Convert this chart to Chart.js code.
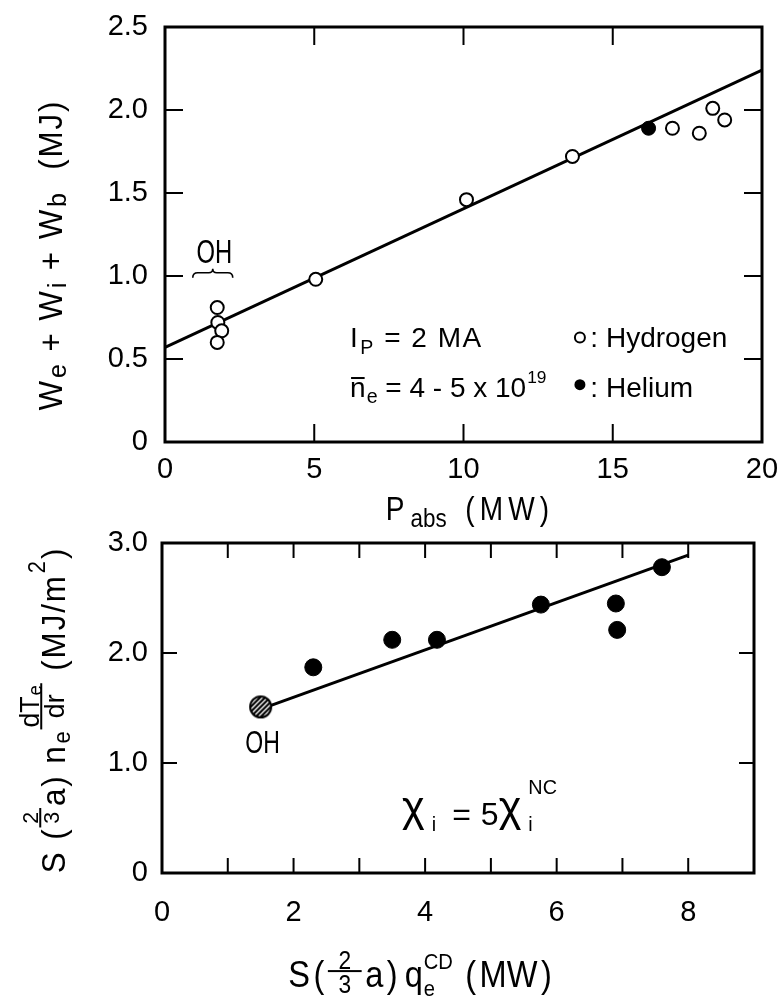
<!DOCTYPE html>
<html>
<head>
<meta charset="utf-8">
<script src="https://cdn.jsdelivr.net/npm/chart.js@4.4.1/dist/chart.umd.min.js"></script>
<style>
  body { margin: 0; background: #fff; width: 778px; height: 1004px; position: relative; overflow: hidden; }
  canvas { position: absolute; left: 0; }
</style>
</head>
<body>
<canvas id="topChart" width="778" height="540" style="top:0"></canvas>
<canvas id="bottomChart" width="778" height="484" style="top:520px"></canvas>
<script>
// --- datos del panel superior (energía almacenada vs potencia absorbida) ---
const topXTicks = [0, 5, 10, 15, 20];
const topYTicks = [0, 0.5, 1.0, 1.5, 2.0, 2.5];
const hydrogenX = [1.75, 1.77, 1.9, 1.75, 5.05, 10.1, 13.65, 17.0, 17.9, 18.35, 18.75];
const hydrogenY = [0.81, 0.72, 0.67, 0.60, 0.98, 1.46, 1.72, 1.89, 1.86, 2.01, 1.94];
const heliumX = [16.2];
const heliumY = [1.89];
const topFitX = [0, 20];
const topFitY = [0.57, 2.24];

// --- datos del panel inferior ---
const bottomXTicks = [0, 1, 2, 3, 4, 5, 6, 7, 8, 9];
const bottomXLabels = ["0", "", "2", "", "4", "", "6", "", "8", ""];
const bottomYTicks = [0, 1.0, 2.0, 3.0];
const ohX = [1.5];
const ohY = [1.51];
const shotX = [2.3, 3.5, 4.18, 5.76, 6.9, 6.92, 7.6];
const shotY = [1.87, 2.12, 2.12, 2.44, 2.45, 2.21, 2.78];
const bottomFitX = [1.5, 8.0];
const bottomFitY = [1.49, 2.89];

const FONT = '"Liberation Sans", Arial, Helvetica, sans-serif';
Chart.defaults.font.family = FONT;
Chart.defaults.color = "#000";

const toPoints = (xs, ys) => xs.map((x, i) => ({ x: x, y: ys[i] }));
const fmtY = (v) => (v === 0 ? "0" : v.toFixed(1));

// texto "a mano": subíndices, superíndices, fracciones, espaciado
function setFont(ctx, size) {
    ctx.font = size + "px " + FONT;
}
function runText(ctx, x, y, s, size, ls, draw) {
    setFont(ctx, size);
    let w = 0;
    for (const ch of s) {
        if (draw) ctx.fillText(ch, x + w, y);
        w += ctx.measureText(ch).width + ls;
    }
    return w;
}
function runParts(ctx, x, y, parts, size, ls, draw) {
    let w = 0;
    for (const p of parts) {
        if (typeof p === "string") {
            w += runText(ctx, x + w, y, p, size, ls, draw);
        } else if (p.gap !== undefined) {
            w += p.gap;
        } else if (p.t) {
            // glifo con tamaño propio (la chi grande)
            w += runText(ctx, x + w, y - size * (p.up || 0), p.t, size * p.fs, ls, draw);
        } else if (p.num) {
            const fs = size * (p.fs || 0.7);
            const nw = runParts(ctx, 0, 0, p.num, fs, 0, false);
            const dw = runParts(ctx, 0, 0, p.den, fs, 0, false);
            const fw = Math.max(nw, dw) + (p.pad || 4);
            const bar = y - size * (p.bar || 0.42);
            if (draw) {
                runParts(ctx, x + w + (fw - nw) / 2, bar - 2, p.num, fs, 0, true);
                runParts(ctx, x + w + (fw - dw) / 2, bar + 3 + fs * 0.72, p.den, fs, 0, true);
                ctx.fillRect(x + w, bar - 1, fw, 2);
            }
            w += fw + ls;
        } else if (p.over) {
            setFont(ctx, size);
            const ow = ctx.measureText(p.over).width;
            if (draw) {
                ctx.fillText(p.over, x + w, y);
                ctx.fillRect(x + w + 1, y - size * 0.72, ow - 2, 2);
            }
            w += ow + ls;
        } else {
            const fs = size * (p.fs || 0.62);
            setFont(ctx, fs);
            let sw = 0;
            if (p.sup) {
                if (draw) ctx.fillText(p.sup, x + w + 1, y - size * (p.up || 0.45));
                sw = Math.max(sw, ctx.measureText(p.sup).width + 1);
            }
            if (p.sub) {
                if (draw) ctx.fillText(p.sub, x + w + 1, y + size * (p.dn || 0.22));
                sw = Math.max(sw, ctx.measureText(p.sub).width + 1);
            }
            w += sw + ls;
        }
    }
    return w;
}
function drawRich(ctx, x, y, parts, size, align, opt) {
    const o = Object.assign({ sx: 1, ls: 0 }, opt || {});
    ctx.save();
    ctx.fillStyle = "#000";
    ctx.textAlign = "left";
    ctx.textBaseline = "alphabetic";
    const w = runParts(ctx, 0, 0, parts, size, o.ls, false) * o.sx;
    const x0 = align === "center" ? x - w / 2 : align === "right" ? x - w : x;
    ctx.translate(x0, y);
    ctx.scale(o.sx, 1);
    runParts(ctx, 0, 0, parts, size, o.ls, true);
    ctx.restore();
}
function drawRotated(ctx, x, y, parts, size, opt) {
    ctx.save();
    ctx.translate(x, y);
    ctx.rotate(-Math.PI / 2);
    drawRich(ctx, 0, 0, parts, size, "center", opt);
    ctx.restore();
}

// marco y marcas hacia dentro en los cuatro lados
function drawFrame(chart, len) {
    const { ctx, chartArea: a, scales } = chart;
    ctx.save();
    ctx.strokeStyle = "#000";
    ctx.lineWidth = 2;
    ctx.beginPath();
    scales.x.ticks.forEach((t) => {
        if (t.value <= scales.x.min || t.value >= scales.x.max) return;
        const px = scales.x.getPixelForValue(t.value);
        ctx.moveTo(px, a.bottom); ctx.lineTo(px, a.bottom - len);
        ctx.moveTo(px, a.top); ctx.lineTo(px, a.top + len);
    });
    scales.y.ticks.forEach((t) => {
        if (t.value <= scales.y.min || t.value >= scales.y.max) return;
        const py = scales.y.getPixelForValue(t.value);
        ctx.moveTo(a.left, py); ctx.lineTo(a.left + len, py);
        ctx.moveTo(a.right, py); ctx.lineTo(a.right - len, py);
    });
    ctx.stroke();
    ctx.lineWidth = 3;
    ctx.strokeRect(a.left, a.top, a.right - a.left, a.bottom - a.top);
    ctx.restore();
}

function hatchedDot(r) {
    const c = document.createElement("canvas");
    const s = Math.ceil(r * 2 + 4);
    c.width = c.height = s;
    const g = c.getContext("2d");
    const m = s / 2;
    g.fillStyle = "#fff";
    g.beginPath(); g.arc(m, m, r, 0, Math.PI * 2); g.fill();
    g.save();
    g.clip();
    g.strokeStyle = "#000";
    g.lineWidth = 2.2;
    for (let k = -s; k < 2 * s; k += 5) {
        g.beginPath(); g.moveTo(k, s); g.lineTo(k + s, 0); g.stroke();
    }
    g.restore();
    g.strokeStyle = "#000";
    g.lineWidth = 2;
    g.beginPath(); g.arc(m, m, r, 0, Math.PI * 2); g.stroke();
    return c;
}

const topPanel = {
    id: "topPanel",
    afterDraw(chart) {
        const { ctx, scales } = chart;
        const X = (v) => scales.x.getPixelForValue(v);
        const Y = (v) => scales.y.getPixelForValue(v);
        drawFrame(chart, 18);

        // "OH" con su llave
        drawRich(ctx, X(1.65), Y(1.08), ["OH"], 34, "center", { sx: 0.7 });
        const x0 = X(0.93), x1 = X(2.27), xm = (x0 + x1) / 2, yb = Y(1.02);
        ctx.save();
        ctx.lineWidth = 1.6;
        ctx.beginPath();
        ctx.moveTo(x0, yb + 5);
        ctx.quadraticCurveTo(x0, yb, x0 + 5, yb);
        ctx.lineTo(xm - 4, yb);
        ctx.quadraticCurveTo(xm, yb, xm, yb - 4);
        ctx.quadraticCurveTo(xm, yb, xm + 4, yb);
        ctx.lineTo(x1 - 5, yb);
        ctx.quadraticCurveTo(x1, yb, x1, yb + 5);
        ctx.stroke();
        ctx.restore();

        drawRich(ctx, X(6.2), Y(0.57), ["I", { sub: "P", fs: 0.7, dn: 0.25 }, " = 2 MA"], 28, "left", { ls: 1.5 });
        drawRich(ctx, X(6.2), Y(0.27), [{ over: "n" }, { sub: "e", fs: 0.7, dn: 0.2 }, " = 4 - 5 x 10", { sup: "19", up: 0.5 }], 28, "left");

        // leyenda dentro del gráfico
        ctx.save();
        ctx.lineWidth = 2;
        ctx.strokeStyle = "#000";
        ctx.fillStyle = "#000";
        ctx.beginPath(); ctx.arc(X(13.9), Y(0.63), 5, 0, Math.PI * 2); ctx.stroke();
        ctx.beginPath(); ctx.arc(X(13.9), Y(0.345), 5.5, 0, Math.PI * 2); ctx.fill();
        ctx.restore();
        drawRich(ctx, X(14.25), Y(0.57), [": Hydrogen"], 28, "left");
        drawRich(ctx, X(14.25), Y(0.27), [": Helium"], 28, "left");

        // títulos de los ejes
        drawRich(ctx, 470, 520, ["P", { sub: "abs", fs: 0.8, dn: 0.22 }, { gap: 16 }, "(MW)"], 33, "center", { sx: 0.85, ls: 6 });
        drawRotated(ctx, 62, 255, ["W", { sub: "e", fs: 0.8, dn: 0.12 }, " + W", { sub: "i", fs: 0.8, dn: 0.12 },
            " + W", { sub: "b", fs: 0.8, dn: 0.12 }, "  (MJ)"], 33, { sx: 0.95, ls: 2 });
    },
};

const bottomPanel = {
    id: "bottomPanel",
    afterDraw(chart) {
        const { ctx, scales } = chart;
        const X = (v) => scales.x.getPixelForValue(v);
        const Y = (v) => scales.y.getPixelForValue(v);
        drawFrame(chart, 15);

        drawRich(ctx, X(1.53), Y(1.09), ["OH"], 32, "center", { sx: 0.72 });
        drawRich(ctx, X(3.65), Y(0.44), [{ t: "χ", fs: 1.35, up: 0.12 }, { gap: 6 }, { sub: "i", fs: 0.62, dn: 0.2 }, { gap: 16 }, "=", { gap: 10 },
            "5", { t: "χ", fs: 1.35, up: 0.12 }, { gap: 6 }, { sup: "NC", sub: "i", fs: 0.62, up: 0.95, dn: 0.2 }], 32, "left");

        drawRich(ctx, 420, 467, ["S", { gap: 4 }, "(", { gap: 4 }, { num: ["2"], den: ["3"], fs: 0.7, pad: 24, bar: 0.43 },
            { gap: 4 }, "a", { gap: 4 }, ")", { gap: 8 }, "q", { sup: "CD", sub: "e", fs: 0.62, up: 0.5, dn: 0.25 },
            { gap: 14 }, "(", { gap: 4 }, "MW", { gap: 4 }, ")"], 37, "center", { sx: 0.88 });
        drawRotated(ctx, 65, 190, ["S (", { num: ["2"], den: ["3"], fs: 0.68, pad: 8, bar: 0.75 }, "a) n", { sub: "e", fs: 0.7, dn: 0.15 },
            { num: ["dT", { sub: "e", fs: 0.7, dn: 0.1 }], den: ["dr"], fs: 0.85, pad: 4, bar: 0.72 }, " (MJ/m", { sup: "2", fs: 0.7, up: 0.6 }, ")"],
            33, { sx: 0.95, ls: 2 });
    },
};

new Chart(document.getElementById("topChart"), {
    type: "scatter",
    data: {
        datasets: [
            {
                data: toPoints(hydrogenX, hydrogenY),
                pointRadius: 6.5,
                pointBackgroundColor: "#fff",
                pointBorderColor: "#000",
                pointBorderWidth: 2,
                order: 1,
            },
            {
                data: toPoints(heliumX, heliumY),
                pointRadius: 7,
                pointBackgroundColor: "#000",
                pointBorderColor: "#000",
                order: 1,
            },
            {
                data: toPoints(topFitX, topFitY),
                showLine: true,
                borderColor: "#000",
                borderWidth: 3,
                pointRadius: 0,
                order: 5,
            },
        ],
    },
    options: {
        responsive: false,
        animation: false,
        events: [],
        layout: { padding: { top: 27, right: 16, left: 0, bottom: 0 } },
        plugins: { legend: { display: false }, tooltip: { enabled: false } },
        scales: {
            x: {
                type: "linear",
                min: 0,
                max: 20,
                afterBuildTicks: (s) => { s.ticks = topXTicks.map((v) => ({ value: v })); },
                afterFit: (s) => { s.height = 98; s.paddingLeft = 0; s.paddingRight = 0; },
                grid: { display: false, drawTicks: false },
                border: { display: false },
                ticks: { font: { size: 29 }, padding: 11, maxRotation: 0, autoSkip: false, callback: (v) => String(v) },
            },
            y: {
                type: "linear",
                min: 0,
                max: 2.5,
                afterBuildTicks: (s) => { s.ticks = topYTicks.map((v) => ({ value: v })); },
                afterFit: (s) => { s.width = 165; s.paddingTop = 0; s.paddingBottom = 0; },
                grid: { display: false, drawTicks: false },
                border: { display: false },
                ticks: { font: { size: 29 }, padding: 17, autoSkip: false, callback: fmtY },
            },
        },
    },
    plugins: [topPanel],
});

new Chart(document.getElementById("bottomChart"), {
    type: "scatter",
    data: {
        datasets: [
            {
                data: toPoints(ohX, ohY),
                pointStyle: hatchedDot(10.5),
                order: 1,
            },
            {
                data: toPoints(shotX, shotY),
                pointRadius: 8.5,
                pointBackgroundColor: "#000",
                pointBorderColor: "#000",
                order: 2,
            },
            {
                data: toPoints(bottomFitX, bottomFitY),
                showLine: true,
                borderColor: "#000",
                borderWidth: 3,
                pointRadius: 0,
                order: 5,
            },
        ],
    },
    options: {
        responsive: false,
        animation: false,
        events: [],
        layout: { padding: { top: 23, right: 24, left: 0, bottom: 0 } },
        plugins: { legend: { display: false }, tooltip: { enabled: false } },
        scales: {
            x: {
                type: "linear",
                min: 0,
                max: 9,
                afterBuildTicks: (s) => { s.ticks = bottomXTicks.map((v) => ({ value: v })); },
                afterFit: (s) => { s.height = 131; s.paddingLeft = 0; s.paddingRight = 0; },
                grid: { display: false, drawTicks: false },
                border: { display: false },
                ticks: {
                    font: { size: 29 },
                    padding: 23,
                    maxRotation: 0,
                    autoSkip: false,
                    callback: (v) => bottomXLabels[bottomXTicks.indexOf(v)],
                },
            },
            y: {
                type: "linear",
                min: 0,
                max: 3,
                afterBuildTicks: (s) => { s.ticks = bottomYTicks.map((v) => ({ value: v })); },
                afterFit: (s) => { s.width = 162; s.paddingTop = 0; s.paddingBottom = 0; },
                grid: { display: false, drawTicks: false },
                border: { display: false },
                ticks: { font: { size: 29 }, padding: 14, autoSkip: false, callback: fmtY },
            },
        },
    },
    plugins: [bottomPanel],
});
</script>
</body>
</html>
